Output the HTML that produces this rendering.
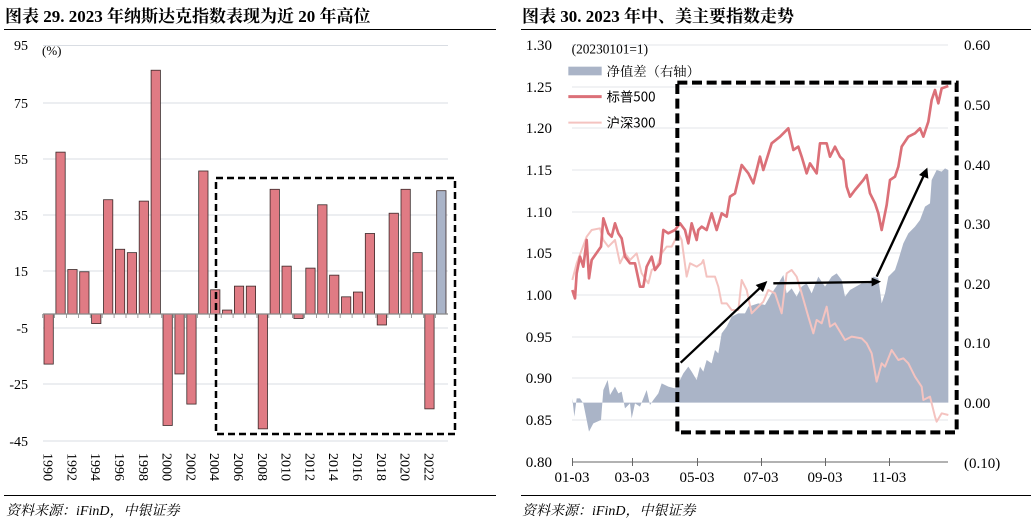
<!DOCTYPE html>
<html><head><meta charset="utf-8"><style>
body{margin:0;background:#fff;width:1031px;height:532px;overflow:hidden}
svg{display:block;font-family:"Liberation Serif","Noto Serif CJK SC",serif}
</style></head><body>
<svg width="1031" height="532" viewBox="0 0 1031 532">
<g font-weight="bold" font-size="17" fill="#000">
<text x="5" y="22">图表 29. 2023 年纳斯达克指数表现为近 20 年高位</text>
<text x="522" y="22">图表 30. 2023 年中、美主要指数走势</text>
</g>
<line x1="4" y1="29.5" x2="496" y2="29.5" stroke="#000"/>
<line x1="521" y1="29.5" x2="1031" y2="29.5" stroke="#000"/>
<line x1="4" y1="495.5" x2="496" y2="495.5" stroke="#000"/>
<line x1="521" y1="495.5" x2="1031" y2="495.5" stroke="#000"/>
<g font-style="italic" font-size="14" fill="#000">
<text x="6" y="515">资料来源：iFinD，中银证券</text>
<text x="522" y="515">资料来源：iFinD，中银证券</text>
</g>

<!-- LEFT CHART -->
<g stroke="#d9dde3" stroke-width="1">
<line x1="43" y1="45.5" x2="448" y2="45.5"/><line x1="43" y1="103" x2="448" y2="103"/>
<line x1="43" y1="159" x2="448" y2="159"/><line x1="43" y1="215" x2="448" y2="215"/>
<line x1="43" y1="271" x2="448" y2="271"/><line x1="43" y1="328" x2="448" y2="328"/>
<line x1="43" y1="384" x2="448" y2="384"/><line x1="43" y1="441" x2="448" y2="441"/>
</g>
<g font-size="14" fill="#000" text-anchor="end">
<text x="28" y="50">95</text><text x="28" y="108">75</text><text x="28" y="164">55</text>
<text x="28" y="220">35</text><text x="28" y="276">15</text><text x="28" y="333">-5</text>
<text x="28" y="389">-25</text><text x="28" y="446">-45</text>
</g>
<text x="42" y="55" font-size="13">(%)</text>
<g id="bars" stroke="#3a2a2a" stroke-width="0.8"></g>
<line x1="43" y1="314" x2="448" y2="314" stroke="#888" stroke-width="1.2"/>
<g id="xl" font-size="14"></g>
<rect x="216" y="178" width="239" height="256" fill="none" stroke="#000" stroke-width="2.5" stroke-dasharray="7,4"/>

<!-- RIGHT CHART -->
<g stroke="#e3e6ea" stroke-width="1">
<line x1="572" y1="45" x2="948" y2="45"/><line x1="572" y1="87" x2="948" y2="87"/>
<line x1="572" y1="128" x2="948" y2="128"/><line x1="572" y1="170" x2="948" y2="170"/>
<line x1="572" y1="212" x2="948" y2="212"/><line x1="572" y1="253" x2="948" y2="253"/>
<line x1="572" y1="295" x2="948" y2="295"/><line x1="572" y1="337" x2="948" y2="337"/>
<line x1="572" y1="378" x2="948" y2="378"/><line x1="572" y1="420" x2="948" y2="420"/>
</g>
<g font-size="15" fill="#000" text-anchor="end">
<text x="552" y="50">1.30</text><text x="552" y="92">1.25</text><text x="552" y="133">1.20</text>
<text x="552" y="175">1.15</text><text x="552" y="217">1.10</text><text x="552" y="258">1.05</text>
<text x="552" y="300">1.00</text><text x="552" y="342">0.95</text><text x="552" y="383">0.90</text>
<text x="552" y="425">0.85</text><text x="552" y="467">0.80</text>
</g>
<g font-size="15" fill="#000">
<text x="964" y="50">0.60</text><text x="964" y="110">0.50</text><text x="964" y="170">0.40</text>
<text x="964" y="229">0.30</text><text x="964" y="289">0.20</text><text x="964" y="348">0.10</text>
<text x="964" y="408">0.00</text><text x="964" y="468">(0.10)</text>
</g>
<g font-size="15" fill="#000" text-anchor="middle">
<text x="572" y="482">01-03</text><text x="632" y="482">03-03</text><text x="697" y="482">05-03</text>
<text x="761" y="482">07-03</text><text x="825" y="482">09-03</text><text x="889" y="482">11-03</text>
</g>
<line x1="572" y1="462" x2="948" y2="462" stroke="#666"/>
<g stroke="#666"><line x1="572.5" y1="458" x2="572.5" y2="466"/><line x1="632.5" y1="458" x2="632.5" y2="466"/><line x1="697.5" y1="458" x2="697.5" y2="466"/><line x1="761.5" y1="458" x2="761.5" y2="466"/><line x1="825.5" y1="458" x2="825.5" y2="466"/><line x1="889.5" y1="458" x2="889.5" y2="466"/></g>

<g transform="translate(515,0) scale(0.33333)">
<polygon fill="#aab4c7" points="172,1208 172,1195 178,1250 185,1195 195,1195 205,1210 215,1260 222,1295 235,1270 258,1260 265,1170 278,1140 285,1185 300,1160 310,1180 320,1175 330,1225 345,1210 350,1255 360,1210 375,1220 385,1195 395,1170 405,1215 415,1200 430,1180 440,1150 460,1160 480,1165 495,1140 505,1120 520,1100 530,1115 545,1140 555,1100 565,1115 575,1080 590,1090 600,1050 610,1060 620,1000 635,980 650,950 670,940 690,940 700,920 730,910 750,915 770,880 790,850 805,825 815,880 830,865 845,890 860,860 875,850 890,880 910,830 930,860 950,830 965,820 980,840 990,890 1005,870 1040,850 1060,850 1075,830 1090,835 1100,910 1110,880 1120,830 1140,810 1150,780 1165,730 1180,700 1200,680 1215,660 1230,620 1245,610 1250,540 1265,510 1280,515 1290,505 1300,510 1300,1208"/>
<polyline fill="none" stroke="#f4c3c0" stroke-width="6" stroke-linejoin="round" points="172,840 185,790 200,750 215,710 230,690 255,685 265,720 280,740 300,720 315,790 330,760 345,780 365,760 380,820 400,850 410,810 425,800 440,760 455,740 470,740 490,700 500,720 515,830 525,790 545,800 560,790 565,780 575,830 600,830 610,860 620,910 635,910 650,930 670,930 680,840 695,870 710,940 730,920 745,905 760,870 780,880 800,940 815,820 830,810 845,830 860,880 880,950 895,1000 905,960 920,970 935,920 945,980 960,970 975,995 990,1020 1010,1010 1040,1015 1055,1030 1070,1060 1085,1145 1100,1090 1110,1100 1130,1050 1150,1080 1165,1075 1180,1090 1200,1130 1220,1160 1225,1200 1245,1190 1260,1250 1265,1265 1280,1240 1300,1245"/>
<polyline fill="none" stroke="#db7078" stroke-width="8" stroke-linejoin="round" points="172,870 180,895 185,820 195,770 205,800 215,720 222,835 230,780 258,740 265,655 280,700 290,710 300,670 310,700 320,715 330,770 345,790 360,790 375,860 385,860 395,800 410,770 420,810 435,790 445,690 460,700 480,690 495,670 510,690 520,730 530,670 545,720 550,690 560,680 575,690 590,640 605,690 620,640 635,650 645,590 660,580 680,495 700,520 715,550 735,470 745,510 770,430 795,410 810,395 820,385 835,450 850,440 860,470 875,520 885,490 905,520 915,430 935,430 945,470 960,440 975,470 985,480 995,560 1005,590 1020,570 1045,540 1055,525 1065,580 1080,610 1090,640 1100,690 1115,615 1125,540 1140,530 1150,500 1160,440 1180,410 1200,400 1215,385 1225,410 1240,365 1250,300 1260,270 1270,310 1280,265 1300,258"/>
<rect x="487" y="248" width="838" height="1049" fill="none" stroke="#000" stroke-width="12" stroke-dasharray="30,14"/>
<g stroke="#000" stroke-width="7" fill="#000">
<line x1="497" y1="1088" x2="740" y2="859"/><polygon points="757,843 722,855 744,876" stroke="none"/>
<line x1="775" y1="850" x2="1075" y2="846"/><polygon points="1098,845 1070,833 1070,859" stroke="none"/>
<line x1="1085" y1="830" x2="1228" y2="523"/><polygon points="1237,503 1212,525 1240,536" stroke="none"/>
</g>
<text x="170" y="160" font-size="40">(20230101=1)</text>
<rect x="160" y="200" width="100" height="26" fill="#aab4c7"/>
<text x="275" y="228" font-size="40" font-family="Noto Serif CJK SC,serif">净值差（右轴）</text>
<line x1="160" y1="290" x2="260" y2="290" stroke="#db7078" stroke-width="9"/>
<text x="275" y="304" font-size="40" font-family="Noto Sans CJK SC,sans-serif">标普500</text>
<line x1="160" y1="368" x2="260" y2="368" stroke="#f4c3c0" stroke-width="6"/>
<text x="275" y="382" font-size="40" font-family="Noto Sans CJK SC,sans-serif">沪深300</text>
</g>
</svg>
<script>
var v=[-17.8,57.5,15.8,15.0,-3.4,40.6,23.0,21.8,40.1,86.6,-39.6,-21.3,-32,50.8,8.6,1.4,9.9,9.9,-40.8,44.3,17,-1.6,16.3,38.8,13.8,6.1,7.8,28.6,-3.9,35.8,44.3,21.8,-33.7,43.8];
var ns="http://www.w3.org/2000/svg",g=document.getElementById("bars"),xl=document.getElementById("xl");
v.forEach(function(d,i){var x=44+i*11.9,h=Math.abs(d)*2.815,y=d>0?314-h:314;
var r=document.createElementNS(ns,"rect");r.setAttribute("x",x);r.setAttribute("y",y);r.setAttribute("width",9.3);r.setAttribute("height",h);
r.setAttribute("fill",i==33?"#aab4c8":"#e07b84");g.appendChild(r);
var t=document.createElementNS(ns,"line");t.setAttribute("x1",x-1.3);t.setAttribute("x2",x-1.3);t.setAttribute("y1",314);t.setAttribute("y2",318);t.setAttribute("stroke","#888");g.appendChild(t);
if(i%2==0){var tx=document.createElementNS(ns,"text");var cx=x+4.6-5;tx.setAttribute("transform","translate("+cx+",453) rotate(90)");tx.textContent=1990+i;xl.appendChild(tx);}
});
</script>
</body></html>
